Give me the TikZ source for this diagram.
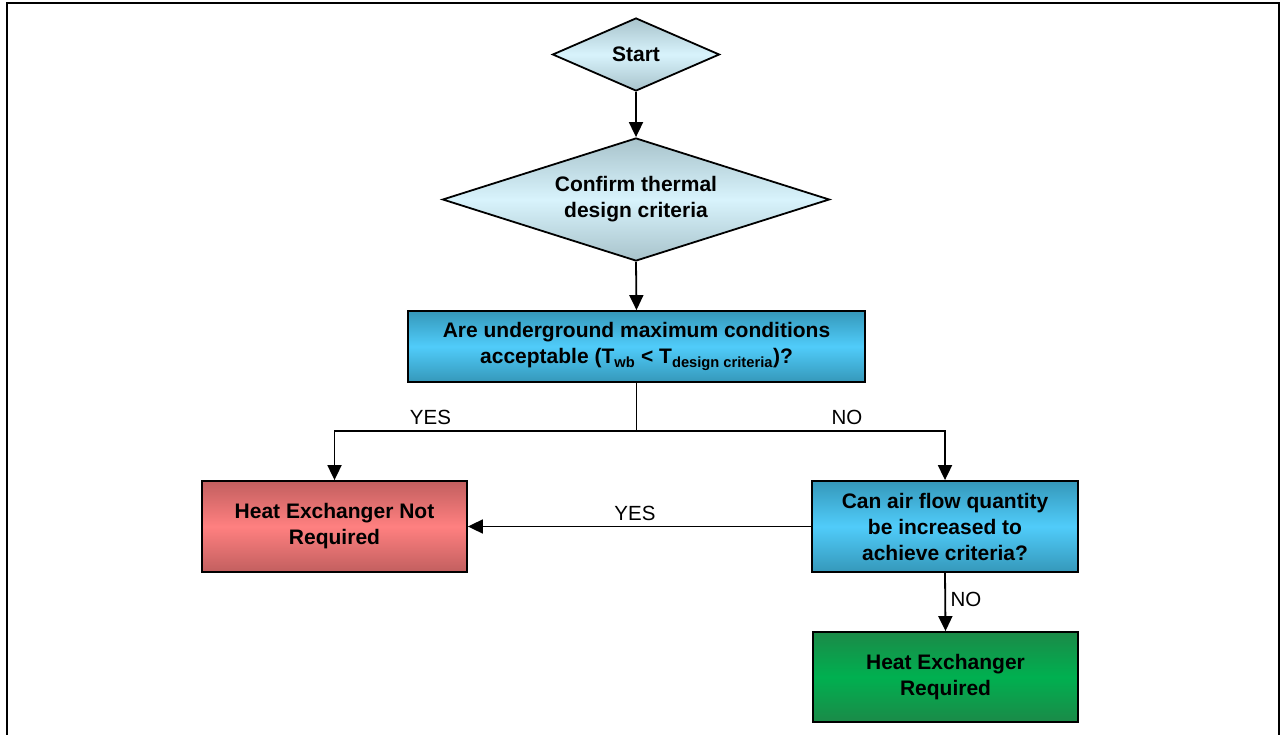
\documentclass[tikz,border=0pt]{standalone}
\usepackage{fontspec}
\setmainfont{Liberation Sans}
\usetikzlibrary{shapes.geometric,arrows.meta}

\definecolor{decTop}{HTML}{A8C3CB}
\definecolor{decMid}{HTML}{D8F3FC}
\definecolor{qTop}{HTML}{3598BA}
\definecolor{qMid}{HTML}{50CCFA}
\definecolor{redTop}{HTML}{C25F5F}
\definecolor{redMid}{HTML}{FF8080}
\definecolor{grnTop}{HTML}{1B8A48}
\definecolor{grnMid}{HTML}{00B050}

\tikzset{
  boxtext/.style={font=\fontsize{21}{26}\selectfont\bfseries, align=center},
  decision/.style={boxtext, diamond, draw, line width=1.8pt, inner sep=0pt,
    shading=axis, top color=decTop, bottom color=decTop, middle color=decMid},
  procbox/.style={boxtext, rectangle, draw, line width=1.8pt, inner sep=0pt},
  bluebox/.style={procbox, top color=qTop, bottom color=qTop, middle color=qMid},
  redbox/.style={procbox, top color=redTop, bottom color=redTop, middle color=redMid},
  greenbox/.style={procbox, top color=grnTop, bottom color=grnTop, middle color=grnMid},
  flow/.style={line width=1.8pt, -{Triangle[length=15pt,width=14pt]}},
  link/.style={line width=1.8pt},
  answer/.style={font=\fontsize{20.5}{22}\selectfont}
}

\begin{document}
\begin{tikzpicture}[x=1pt,y=-1pt]
  \useasboundingbox (0,0) rectangle (1281,735);
  \clip (0,0) rectangle (1281,735);

  % outer frame (runs past the lower edge)
  \draw[line width=2.4pt] (7,3) rectangle (1279,760);

  % nodes
  \node[decision, aspect=2.29, minimum width=167pt, minimum height=73pt] (start) at (636,54.5) {Start};
  \node[decision, aspect=3.15, minimum width=387pt, minimum height=123pt] (confirm) at (636,199.5)
    {Confirm thermal\\design criteria};
  \node[bluebox, minimum width=457pt, minimum height=71pt] (accept) at (636.5,346.5)
    {Are underground maximum conditions\\acceptable (T\textsubscript{wb} < T\textsubscript{design criteria})?};
  \node[redbox, minimum width=265pt, minimum height=91pt] (notreq) at (334.5,526.5)
    {Heat Exchanger Not\\Required};
  \node[bluebox, minimum width=266pt, minimum height=91pt] (airflow) at (945,526.5)
    {Can air flow quantity\\be increased to\\achieve criteria?};
  \node[greenbox, minimum width=265pt, minimum height=90pt] (req) at (945.5,677)
    {Heat Exchanger\\Required};

  % connectors
  \coordinate (split) at (accept.south |- 0,431);
  \coordinate (leftturn) at (notreq.north |- split);
  \coordinate (rightturn) at (airflow.north |- split);

  \draw[flow] (start.south) -- (confirm.north);
  \draw[flow] (confirm.south) -- (accept.north);
  \draw[link] (accept.south) -- (split);
  \draw[flow] (split) -- (leftturn) -- (notreq.north);
  \draw[flow] (split) -- (rightturn) -- (airflow.north);
  \draw[flow] (airflow.west) -- (notreq.east);
  \draw[flow] (airflow.south) -- (req.north);

  % branch labels
  \node[answer] (yes1) at (430.5,417) {YES};
  \node[answer] (no1) at (847,417) {NO};
  \node[answer] (yes2) at (635,513) {YES};
  \node[answer] (no2) at (966,599) {NO};
\end{tikzpicture}
\end{document}
